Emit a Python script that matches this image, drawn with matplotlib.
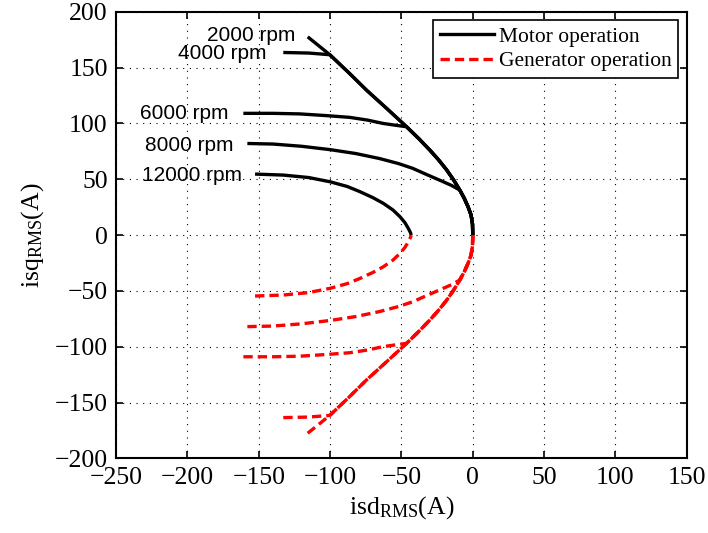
import numpy as np
import matplotlib
matplotlib.use("Agg")
import matplotlib.pyplot as plt
from matplotlib.lines import Line2D

plt.rcParams['font.family'] = 'Liberation Serif'
plt.rcParams['mathtext.fontset'] = 'custom'
plt.rcParams['mathtext.rm'] = 'Liberation Serif'
plt.rcParams['mathtext.it'] = 'Liberation Serif:italic'

''' data read off the picture (motor side, iq > 0) '''
# max torque per ampere path, followed by the 2000 rpm curve
mtpa_id = [-115.7, -100.2, -87, -74.5, -60, -46.4, -37.5, -30.1, -24, -18.4, -13.5, -9.1,
           -6, -3.3, -1.2, -0.2, 0]
mtpa_iq = [177.5, 161.5, 145.5, 129.8, 113, 97, 85.9, 76.1, 67.4, 58.5, 49.5, 40.3,
           33, 25.3, 18, 10, 0]

speeds = ["2000 rpm", "4000 rpm", "6000 rpm", "8000 rpm", "12000 rpm"]
# flux weakening branch of each speed, before it joins the mtpa path
branch_id = {
    "2000 rpm": [],
    "4000 rpm": [-132.8, -115],
    "6000 rpm": [-160.8, -140, -121.4, -103, -86.3, -74, -63, -54],
    "8000 rpm": [-158, -140, -120, -100, -82, -65.3, -52, -42, -32, -23.3, -15],
    "12000 rpm": [-152.6, -132.7, -115, -100, -88, -79, -70, -62.7, -56, -51,
                  -47.5, -45.2, -43.6, -43.2],
}
branch_iq = {
    "2000 rpm": [],
    "4000 rpm": [163.5, 163],
    "6000 rpm": [109, 109, 108.5, 107, 105.4, 103, 100, 98.3],
    "8000 rpm": [82, 81.5, 79.5, 76.5, 73, 68.5, 64, 59.7, 54, 49.2, 44.5],
    "12000 rpm": [54.6, 53.7, 51.5, 47.7, 43.5, 38.8, 33.5, 28.4, 22.5, 16.4,
                  11, 6, 2, 0],
}
# index of the mtpa point where the branch joins (None = never joins)
join_idx = {"2000 rpm": 0, "4000 rpm": 1, "6000 rpm": 5, "8000 rpm": 11, "12000 rpm": None}

label_x = [-124.6, -144.5, -171.5, -168, -162]
label_y = [179, 163, 109, 80.6, 53.7]


def curve(name):
    x = list(branch_id[name])
    y = list(branch_iq[name])
    j = join_idx[name]
    if j is not None:
        x += mtpa_id[j:]
        y += mtpa_iq[j:]
    return np.array(x), np.array(y)


fig = plt.figure(figsize=(7.08, 5.33), dpi=100)
ax = fig.add_axes([0.164, 0.140, 0.806, 0.838])

for name in speeds:
    x, y = curve(name)
    ax.plot(x, y, color='black', lw=2.4, solid_capstyle='butt', solid_joinstyle='round')
for name in speeds:
    x, y = curve(name)
    ax.plot(x, -y, color='red', lw=2.4, dashes=(2.8, 1.5), dash_capstyle='butt')

for name, lx, ly in zip(speeds, label_x, label_y):
    ax.text(lx, ly, name, ha='right', va='center', fontsize=15,
            family='Liberation Sans')

ax.set_xlim(-250, 150)
ax.set_ylim(-200, 200)
ax.set_xticks(np.arange(-250, 151, 50))
ax.set_yticks(np.arange(-200, 201, 50))
ax.grid(True, color='black', linestyle=(0, (1, 5)), lw=0.8)
ax.tick_params(direction='in', top=True, right=True, labelsize=18.5,
               length=5, width=1.2, pad=6)
for s in ax.spines.values():
    s.set_linewidth(1.5)

ax.set_xlabel(r'isd$_{\mathrm{RMS}}$(A)', fontsize=18.5, labelpad=4)
ax.set_ylabel(r'isq$_{\mathrm{RMS}}$(A)', fontsize=18.5, labelpad=6)

handles = [Line2D([], [], color='black', lw=2.4),
           Line2D([], [], color='red', lw=2.4, dashes=(2.8, 1.5))]
leg = ax.legend(handles, ['Motor operation', 'Generator operation'],
                loc='upper right', fontsize=15.5, handlelength=2.5,
                borderaxespad=0.4, fancybox=False, framealpha=1,
                edgecolor='black', borderpad=0.3, labelspacing=0.2,
                handletextpad=0.25)
leg.get_frame().set_linewidth(1.2)

fig.savefig('out.png', dpi=100)
